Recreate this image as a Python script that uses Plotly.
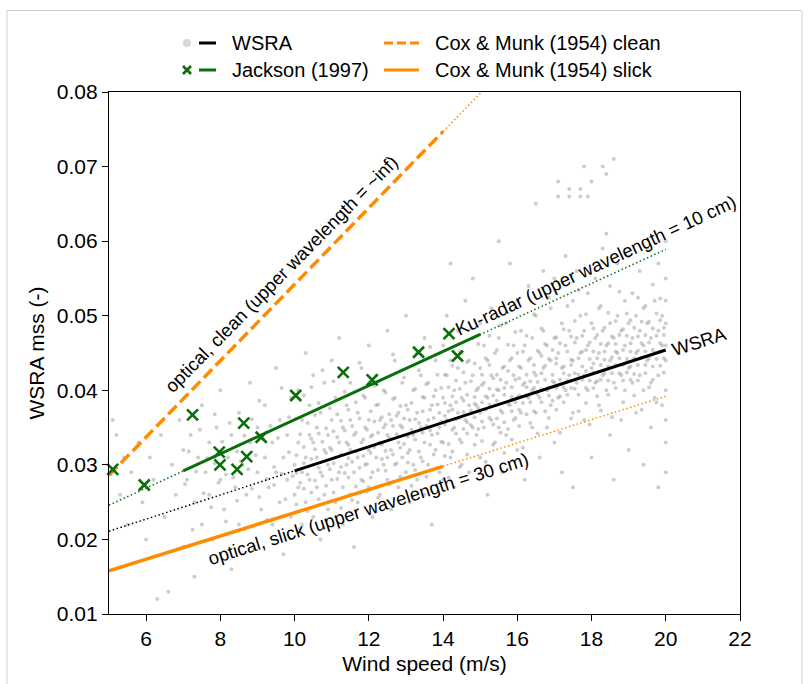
import plotly.graph_objects as go

W, H = 809, 684

# ---------------- data ----------------
# WSRA observations: wind-speed columns (m/s) and the mss values read in each column
wsra_wind = [
    5.1, 5.2, 5.3, 5.4, 5.5, 5.6, 5.8, 5.9, 6.0, 6.1, 6.2, 6.3, 6.4, 6.5, 6.6, 6.7, 6.8, 6.9, 7.0,
    7.1, 7.2, 7.3, 7.4, 7.5, 7.6, 7.7, 7.8, 7.9, 8.0, 8.1, 8.2, 8.3, 8.4, 8.5, 8.6, 8.7, 8.8, 8.9, 9.0,
    9.1, 9.2, 9.3, 9.4, 9.5, 9.6, 9.7, 9.8, 9.9, 10.0,
    10.1, 10.2, 10.3, 10.4, 10.5, 10.6, 10.7, 10.8, 10.9, 11.0, 11.1, 11.2, 11.3, 11.4, 11.5, 11.6,
    11.7, 11.8, 11.9, 12.0, 12.1, 12.2, 12.3, 12.4, 12.5, 12.6, 12.7, 12.8, 12.9, 13.0, 13.1, 13.2,
    13.3, 13.4, 13.5, 13.6, 13.7, 13.8, 13.9,
    14.0, 14.1, 14.2, 14.3, 14.4, 14.5, 14.6, 14.7, 14.8, 14.9, 15.0, 15.1, 15.2, 15.3, 15.4, 15.5,
    15.6, 15.7, 15.8, 15.9, 16.0, 16.1, 16.2, 16.3, 16.4, 16.5, 16.6, 16.7, 16.8, 16.9, 17.0, 17.1,
    17.2, 17.3, 17.4, 17.5, 17.6, 17.7, 17.8, 17.9, 18.0, 18.1, 18.2, 18.3, 18.4, 18.5, 18.6, 18.7,
    18.8, 18.9, 19.0, 19.1, 19.2, 19.3, 19.4, 19.5, 19.6, 19.7, 19.8, 19.9, 20.0,
]
wsra_mss = [
    [0.036], [0.034], [0.026], [0.031], [0.022], [0.029], [0.033], [0.025], [0.020], [0.031],
    [0.028], [0.012], [0.034], [0.023], [0.013], [0.030], [0.026], [0.036], [0.019, 0.032],
    [0.028], [0.034], [0.015, 0.025], [0.031], [0.038, 0.022], [0.029], [0.033, 0.026], [0.020],
    [0.035], [0.028, 0.040], [0.024], [0.031], [0.016, 0.034], [0.027], [0.037, 0.022], [0.030],
    [0.026], [0.033, 0.041], [0.019], [0.029, 0.035],
    [0.024], [0.031, 0.038], [0.027], [0.022, 0.033], [0.029, 0.043], [0.025, 0.036],
    [0.031, 0.018], [0.028, 0.034], [0.023, 0.039], [0.030, 0.026],
    [0.033, 0.027, 0.040], [0.029, 0.036, 0.022], [0.031, 0.025, 0.045], [0.034, 0.028, 0.038],
    [0.030, 0.023, 0.042, 0.033], [0.027, 0.035, 0.031], [0.037, 0.029, 0.020],
    [0.032, 0.026, 0.041], [0.034, 0.030, 0.024], [0.036, 0.028, 0.044, 0.032],
    [0.031, 0.025, 0.039], [0.033, 0.029, 0.047], [0.035, 0.027, 0.022], [0.030, 0.038, 0.033],
    [0.032, 0.026, 0.041, 0.036], [0.029, 0.034, 0.019],
    [0.037, 0.031, 0.025], [0.033, 0.028, 0.043], [0.035, 0.030, 0.039],
    [0.032, 0.027, 0.046, 0.036], [0.034, 0.029, 0.023], [0.038, 0.031, 0.042],
    [0.033, 0.026, 0.036], [0.030, 0.040, 0.035], [0.034, 0.028, 0.048, 0.031],
    [0.036, 0.032, 0.024], [0.039, 0.030, 0.044], [0.033, 0.027, 0.037], [0.035, 0.031, 0.041],
    [0.038, 0.029, 0.034, 0.050], [0.036, 0.032, 0.025], [0.040, 0.034, 0.030],
    [0.037, 0.028, 0.045], [0.035, 0.031, 0.042], [0.039, 0.033, 0.026, 0.047],
    [0.036, 0.030, 0.041], [0.038, 0.034, 0.022], [0.040, 0.032, 0.044], [0.037, 0.029, 0.035],
    [0.039, 0.033, 0.046, 0.028], [0.042, 0.036, 0.050], [0.038, 0.031, 0.044, 0.057],
    [0.040, 0.035, 0.027], [0.043, 0.037, 0.048], [0.039, 0.033, 0.045, 0.030],
    [0.041, 0.036, 0.052], [0.038, 0.044, 0.029], [0.042, 0.035, 0.047, 0.055],
    [0.040, 0.034, 0.038], [0.043, 0.037, 0.049, 0.031], [0.041, 0.035, 0.046],
    [0.039, 0.044, 0.026], [0.042, 0.036, 0.051], [0.045, 0.038, 0.033],
    [0.040, 0.047, 0.060, 0.035],
    [0.043, 0.037, 0.029], [0.041, 0.049, 0.034], [0.044, 0.038, 0.057], [0.042, 0.036, 0.046],
    [0.045, 0.039, 0.052, 0.032], [0.043, 0.037, 0.048], [0.041, 0.046, 0.028],
    [0.044, 0.039, 0.054], [0.047, 0.040, 0.035], [0.042, 0.050, 0.065, 0.037],
    [0.045, 0.039, 0.031], [0.043, 0.048, 0.056], [0.046, 0.040, 0.035], [0.044, 0.038, 0.051],
    [0.047, 0.041, 0.055, 0.033], [0.045, 0.039, 0.068, 0.066],
    [0.043, 0.049, 0.029], [0.046, 0.040, 0.058], [0.048, 0.042, 0.067, 0.066],
    [0.044, 0.052, 0.037, 0.027], [0.047, 0.041, 0.056], [0.045, 0.050, 0.067, 0.066],
    [0.048, 0.042, 0.070, 0.036], [0.046, 0.040, 0.066, 0.053], [0.049, 0.043, 0.068, 0.031],
    [0.047, 0.041, 0.055], [0.045, 0.051, 0.038], [0.048, 0.042, 0.070, 0.059],
    [0.046, 0.040, 0.069, 0.061], [0.049, 0.044, 0.034, 0.054], [0.047, 0.071, 0.041, 0.028],
    [0.045, 0.050, 0.057],
    [0.048, 0.042, 0.036], [0.046, 0.052, 0.040], [0.049, 0.043, 0.058, 0.032],
    [0.047, 0.041, 0.053], [0.045, 0.050, 0.037], [0.048, 0.042, 0.056],
    [0.046, 0.040, 0.051, 0.030], [0.049, 0.044, 0.059], [0.047, 0.041, 0.035],
    [0.045, 0.052, 0.039], [0.048, 0.042, 0.057, 0.027], [0.046, 0.050, 0.038],
    [0.044, 0.049, 0.040, 0.055, 0.033, 0.060, 0.029, 0.036, 0.046, 0.052],
]
assert len(wsra_wind) == len(wsra_mss)

# second pass over the dense part of the cloud (columns in between the first ones)
wsra_wind_b = [
    7.05, 7.15, 7.25, 7.35, 7.45, 7.55, 7.65, 7.75, 7.85, 7.95, 8.05, 8.15, 8.25, 8.35, 8.45,
    8.55, 8.65, 8.75, 8.85, 8.95, 9.05, 9.15, 9.25, 9.35, 9.45, 9.55, 9.65, 9.75, 9.85, 9.95,
    10.05, 10.15, 10.25, 10.35, 10.45, 10.55, 10.65, 10.75, 10.85, 10.95,
    11.05, 11.15, 11.25, 11.35, 11.45, 11.55, 11.65, 11.75, 11.85, 11.95,
    12.05, 12.15, 12.25, 12.35, 12.45, 12.55, 12.65, 12.75, 12.85, 12.95,
    13.05, 13.15, 13.25, 13.35, 13.45, 13.55, 13.65, 13.75, 13.85, 13.95,
    14.05, 14.15, 14.25, 14.35, 14.45, 14.55, 14.65, 14.75, 14.85, 14.95,
    15.05, 15.15, 15.25, 15.35, 15.45, 15.55, 15.65, 15.75, 15.85, 15.95,
    16.05, 16.15, 16.25, 16.35, 16.45, 16.55, 16.65, 16.75, 16.85, 16.95,
    17.05, 17.15, 17.25, 17.35, 17.45, 17.55, 17.65, 17.75, 17.85, 17.95,
    18.05, 18.15, 18.25, 18.35, 18.45, 18.55, 18.65, 18.75, 18.85, 18.95,
    19.05, 19.15, 19.25, 19.35, 19.45, 19.55, 19.65, 19.75, 19.85, 19.95,
]
wsra_mss_b = [
    [0.0274], [0.0318], [0.0213], [0.0291], [0.0347], [0.0262], [0.0309], [0.0243],
    [0.0302, 0.0368], [0.0276], [0.0331], [0.0224, 0.0287], [0.0356], [0.0283],
    [0.0318, 0.0252], [0.0305], [0.0214, 0.0339], [0.0294], [0.0361, 0.0268], [0.0313],
    [0.0257, 0.0386], [0.0334], [0.0281, 0.0226], [0.0352], [0.0297, 0.0273], [0.0336],
    [0.0288, 0.0403], [0.0254], [0.0317, 0.0364], [0.0285],
    [0.0313, 0.0247, 0.0362, 0.0289], [0.0276, 0.0341, 0.0214], [0.0324, 0.0268, 0.0393, 0.0302],
    [0.0287, 0.0356, 0.0238], [0.0335, 0.0263, 0.0308, 0.0404], [0.0279, 0.0367, 0.0321],
    [0.0296, 0.0254, 0.0383, 0.0342], [0.0331, 0.0285, 0.0427], [0.0272, 0.0349, 0.0316, 0.0226],
    [0.0323, 0.0376, 0.0294],
    [0.0302, 0.0345, 0.0263, 0.0412], [0.0337, 0.0281, 0.0368], [0.0314, 0.0359, 0.0242, 0.0297],
    [0.0346, 0.0289, 0.0398], [0.0283, 0.0327, 0.0374, 0.0309], [0.0352, 0.0304, 0.0253],
    [0.0318, 0.0384, 0.0271, 0.0343], [0.0296, 0.0362, 0.0437], [0.0334, 0.0278, 0.0312, 0.0393],
    [0.0347, 0.0301, 0.0264],
    [0.0316, 0.0372, 0.0338, 0.0283], [0.0358, 0.0324, 0.0406], [0.0293, 0.0343, 0.0381, 0.0256],
    [0.0327, 0.0308, 0.0364], [0.0354, 0.0292, 0.0397, 0.0319], [0.0368, 0.0336, 0.0274],
    [0.0314, 0.0352, 0.0388, 0.0448], [0.0341, 0.0302, 0.0366], [0.0323, 0.0379, 0.0284, 0.0353],
    [0.0362, 0.0328, 0.0417],
    [0.0338, 0.0303, 0.0374, 0.0316], [0.0383, 0.0347, 0.0272], [0.0334, 0.0361, 0.0402, 0.0293],
    [0.0356, 0.0318, 0.0427], [0.0372, 0.0343, 0.0305, 0.0391], [0.0352, 0.0408, 0.0284],
    [0.0327, 0.0374, 0.0346, 0.0458], [0.0363, 0.0314, 0.0392], [0.0342, 0.0381, 0.0296, 0.0421],
    [0.0358, 0.0331, 0.0403],
    [0.0354, 0.0383, 0.0312, 0.0421, 0.0366], [0.0372, 0.0328, 0.0404, 0.0283],
    [0.0347, 0.0392, 0.0433, 0.0318, 0.0374], [0.0384, 0.0342, 0.0413, 0.0361],
    [0.0363, 0.0402, 0.0334, 0.0452, 0.0297], [0.0386, 0.0348, 0.0424, 0.0371],
    [0.0342, 0.0394, 0.0438, 0.0357, 0.0314], [0.0373, 0.0412, 0.0353, 0.0483],
    [0.0391, 0.0364, 0.0327, 0.0436, 0.0382], [0.0348, 0.0403, 0.0462, 0.0376],
    [0.0384, 0.0358, 0.0421, 0.0332, 0.0407], [0.0374, 0.0443, 0.0392, 0.0304],
    [0.0402, 0.0363, 0.0434, 0.0381, 0.0473], [0.0354, 0.0393, 0.0416, 0.0327],
    [0.0386, 0.0421, 0.0362, 0.0454, 0.0401], [0.0373, 0.0414, 0.0343, 0.0487],
    [0.0394, 0.0357, 0.0432, 0.0403, 0.0316], [0.0382, 0.0426, 0.0461, 0.0348],
    [0.0404, 0.0372, 0.0443, 0.0391, 0.0334], [0.0363, 0.0414, 0.0384, 0.0478],
    [0.0393, 0.0432, 0.0374, 0.0416, 0.0352], [0.0407, 0.0383, 0.0452, 0.0323],
    [0.0421, 0.0368, 0.0404, 0.0473, 0.0392], [0.0384, 0.0443, 0.0412, 0.0356],
    [0.0403, 0.0434, 0.0372, 0.0502, 0.0424], [0.0394, 0.0453, 0.0411, 0.0342],
    [0.0423, 0.0384, 0.0446, 0.0401, 0.0483], [0.0372, 0.0414, 0.0462, 0.0433],
    [0.0404, 0.0442, 0.0393, 0.0363, 0.0524], [0.0421, 0.0386, 0.0454, 0.0412],
    [0.0403, 0.0436, 0.0471, 0.0374, 0.0443], [0.0414, 0.0392, 0.0463, 0.0343],
    [0.0432, 0.0404, 0.0482, 0.0423, 0.0384], [0.0413, 0.0452, 0.0394, 0.0513],
    [0.0441, 0.0403, 0.0434, 0.0472, 0.0362], [0.0423, 0.0464, 0.0402, 0.0493],
    [0.0394, 0.0443, 0.0421, 0.0372, 0.0534], [0.0432, 0.0414, 0.0473, 0.0452],
    [0.0403, 0.0454, 0.0426, 0.0502, 0.0383], [0.0442, 0.0413, 0.0464, 0.0354],
    [0.0424, 0.0452, 0.0403, 0.0483, 0.0436], [0.0443, 0.0412, 0.0474, 0.0392],
    [0.0434, 0.0462, 0.0414, 0.0513, 0.0373], [0.0452, 0.0423, 0.0484, 0.0441],
    [0.0413, 0.0463, 0.0432, 0.0504, 0.0394], [0.0444, 0.0472, 0.0423, 0.0364],
    [0.0462, 0.0434, 0.0493, 0.0452, 0.0403], [0.0423, 0.0474, 0.0443, 0.0532],
    [0.0454, 0.0413, 0.0482, 0.0434, 0.0384], [0.0442, 0.0473, 0.0424, 0.0503],
    [0.0463, 0.0432, 0.0494, 0.0414, 0.0452], [0.0443, 0.0484, 0.0422, 0.0393],
    [0.0472, 0.0434, 0.0453, 0.0524, 0.0413], [0.0444, 0.0492, 0.0463, 0.0374],
    [0.0423, 0.0474, 0.0452, 0.0513, 0.0434], [0.0464, 0.0443, 0.0492, 0.0404],
    [0.0432, 0.0483, 0.0454, 0.0542, 0.0414], [0.0473, 0.0442, 0.0503, 0.0384],
    [0.0452, 0.0494, 0.0433, 0.0463, 0.0523], [0.0443, 0.0484, 0.0424, 0.0474],
]
assert len(wsra_wind_b) == len(wsra_mss_b)

# Jackson (1997) observations
jackson_wind = [5.10, 5.95, 7.25, 7.97, 7.99, 8.45, 8.63, 8.71, 9.10, 10.03, 11.31, 12.09, 13.34, 14.16, 14.39]
jackson_mss = [0.0294, 0.0273, 0.0367, 0.0317, 0.0300, 0.0294, 0.0356, 0.0311, 0.0337, 0.0393,
               0.0424, 0.0414, 0.0451, 0.0476, 0.0446]

# Linear fits / models (end points)
wsra_fit_wind = [10, 20]
wsra_fit_mss = [0.0292, 0.0454]
wsra_ext_wind = [5, 10]
wsra_ext_mss = [0.0211, 0.0292]

jackson_fit_wind = [7, 15]
jackson_fit_mss = [0.0292, 0.0475]
jackson_ext_wind = [5, 20]
jackson_ext_mss = [0.0246, 0.0589]

cm_clean_wind = [5, 14]
cm_clean_mss = [0.0286, 0.0747]
cm_clean_ext_wind = [14, 20]
cm_clean_ext_mss = [0.0747, 0.1054]

cm_slick_wind = [5, 14]
cm_slick_mss = [0.0158, 0.0298]
cm_slick_ext_wind = [14, 20]
cm_slick_ext_mss = [0.0298, 0.0392]

x_ticks = [6, 8, 10, 12, 14, 16, 18, 20, 22]
y_ticks = [0.01, 0.02, 0.03, 0.04, 0.05, 0.06, 0.07, 0.08]

# ---------------- styles ----------------
ORANGE = "#ff8c00"
GREEN = "#0a6e0a"
BLACK = "#000000"
GRAY_PT = "rgba(135,135,135,0.42)"
FONT = "Liberation Sans, Arial, Helvetica, sans-serif"

# plot area in pixels
PL, PR, PT, PB = 109, 740, 92, 614


def px(x):
    return x / W


def py(y):
    return 1 - y / H


flat_w, flat_m = [], []
for cols, vals in ((wsra_wind, wsra_mss), (wsra_wind_b, wsra_mss_b)):
    for w, ms in zip(cols, vals):
        for m in ms:
            flat_w.append(w)
            flat_m.append(m)

fig = go.Figure()

fig.add_trace(go.Scatter(x=flat_w, y=flat_m, mode="markers",
                         marker=dict(size=4, color=GRAY_PT, line=dict(width=0)),
                         hoverinfo="skip"))

DOT = "1.5px,2.5px"
fig.add_trace(go.Scatter(x=wsra_ext_wind, y=wsra_ext_mss, mode="lines",
                         line=dict(color=BLACK, width=1.5, dash=DOT)))
fig.add_trace(go.Scatter(x=jackson_ext_wind, y=jackson_ext_mss, mode="lines",
                         line=dict(color=GREEN, width=1.5, dash=DOT)))
fig.add_trace(go.Scatter(x=cm_clean_ext_wind, y=cm_clean_ext_mss, mode="lines",
                         line=dict(color=ORANGE, width=1.5, dash=DOT)))
fig.add_trace(go.Scatter(x=cm_slick_ext_wind, y=cm_slick_ext_mss, mode="lines",
                         line=dict(color=ORANGE, width=1.5, dash=DOT)))

fig.add_trace(go.Scatter(x=wsra_fit_wind, y=wsra_fit_mss, mode="lines",
                         line=dict(color=BLACK, width=3)))
fig.add_trace(go.Scatter(x=jackson_fit_wind, y=jackson_fit_mss, mode="lines",
                         line=dict(color=GREEN, width=3)))
fig.add_trace(go.Scatter(x=cm_clean_wind, y=cm_clean_mss, mode="lines",
                         line=dict(color=ORANGE, width=3.5, dash="12px,5px")))
fig.add_trace(go.Scatter(x=cm_slick_wind, y=cm_slick_mss, mode="lines",
                         line=dict(color=ORANGE, width=3.5)))

fig.add_trace(go.Scatter(x=jackson_wind, y=jackson_mss, mode="markers",
                         marker=dict(symbol="x-thin", size=11, color=GREEN,
                                     line=dict(color=GREEN, width=2.6)),
                         cliponaxis=False))

axis_common = dict(showline=True, mirror=True, linecolor="black", linewidth=1.2,
                   ticks="outside", ticklen=6, tickwidth=1.2, tickcolor="black",
                   showgrid=False, zeroline=False, automargin=False,
                   tickfont=dict(size=21, family=FONT, color="black"))

fig.update_layout(
    template="none",
    width=W, height=H,
    margin=dict(l=0, r=0, t=0, b=0),
    paper_bgcolor="white", plot_bgcolor="white",
    showlegend=False,
    font=dict(family=FONT, size=21, color="black"),
    xaxis=dict(domain=[px(PL), px(PR)], range=[5, 22], tickvals=x_ticks,
               title=dict(text="Wind speed (m/s)", font=dict(size=21), standoff=7),
               **axis_common),
    yaxis=dict(domain=[py(PB), py(PT)], range=[0.01, 0.08], tickvals=y_ticks,
               tickformat=".2f",
               title=dict(text="WSRA mss (-)", font=dict(size=21), standoff=6),
               **axis_common),
)

# rotated line labels
labels = [
    dict(x=9.66, y=0.0556, text="optical, clean (upper wavelength = ~inf)", textangle=-45.5),
    dict(x=18.1, y=0.0568, text="Ku-radar (upper wavelength = 10 cm)", textangle=-25),
    dict(x=20.9, y=0.0466, text="WSRA", textangle=-18),
    dict(x=12.0, y=0.0241, text="optical, slick (upper wavelength = 30 cm)", textangle=-17.5),
]
for a in labels:
    fig.add_annotation(x=a["x"], y=a["y"], xref="x", yref="y", text=a["text"],
                       textangle=a["textangle"], showarrow=False,
                       xanchor="center", yanchor="middle",
                       font=dict(size=18.5, family=FONT, color="black"))

# ---------- hand-built legend (paper coordinates) ----------
shapes = []
# WSRA: gray dot + black line
shapes.append(dict(type="circle", xref="paper", yref="paper",
                   x0=px(183), x1=px(191), y0=py(47), y1=py(39),
                   fillcolor="#d8d8d8", line=dict(width=0)))
shapes.append(dict(type="line", xref="paper", yref="paper",
                   x0=px(199), x1=px(216), y0=py(43), y1=py(43),
                   line=dict(color=BLACK, width=3)))
# Jackson: green x + green line
shapes.append(dict(type="line", xref="paper", yref="paper",
                   x0=px(183), x1=px(191), y0=py(66), y1=py(74),
                   line=dict(color=GREEN, width=2.6)))
shapes.append(dict(type="line", xref="paper", yref="paper",
                   x0=px(183), x1=px(191), y0=py(74), y1=py(66),
                   line=dict(color=GREEN, width=2.6)))
shapes.append(dict(type="line", xref="paper", yref="paper",
                   x0=px(199), x1=px(216), y0=py(70), y1=py(70),
                   line=dict(color=GREEN, width=3)))
# Cox & Munk clean (dashed) and slick (solid)
shapes.append(dict(type="line", xref="paper", yref="paper",
                   x0=px(384), x1=px(419), y0=py(43), y1=py(43),
                   line=dict(color=ORANGE, width=3, dash="9px,4px")))
shapes.append(dict(type="line", xref="paper", yref="paper",
                   x0=px(384), x1=px(419), y0=py(70), y1=py(70),
                   line=dict(color=ORANGE, width=3)))
# figure frame
FR = "#cfcfcf"
shapes.append(dict(type="line", xref="paper", yref="paper",
                   x0=px(7), x1=px(802), y0=py(10.5), y1=py(10.5), line=dict(color=FR, width=1)))
shapes.append(dict(type="line", xref="paper", yref="paper",
                   x0=px(7), x1=px(7), y0=py(10.5), y1=py(684), line=dict(color=FR, width=1)))
shapes.append(dict(type="line", xref="paper", yref="paper",
                   x0=px(802), x1=px(802), y0=py(10.5), y1=py(684), line=dict(color=FR, width=1)))
fig.update_layout(shapes=shapes)

legend_text = [
    (230, 43, "WSRA"),
    (230, 70, "Jackson (1997)"),
    (433, 43, "Cox & Munk (1954) clean"),
    (433, 70, "Cox & Munk (1954) slick"),
]
for x, y, t in legend_text:
    fig.add_annotation(x=px(x), y=py(y), xref="paper", yref="paper", text=t,
                       showarrow=False, xanchor="left", yanchor="middle",
                       font=dict(size=20, family=FONT, color="black"))

fig.write_html("out.html")
